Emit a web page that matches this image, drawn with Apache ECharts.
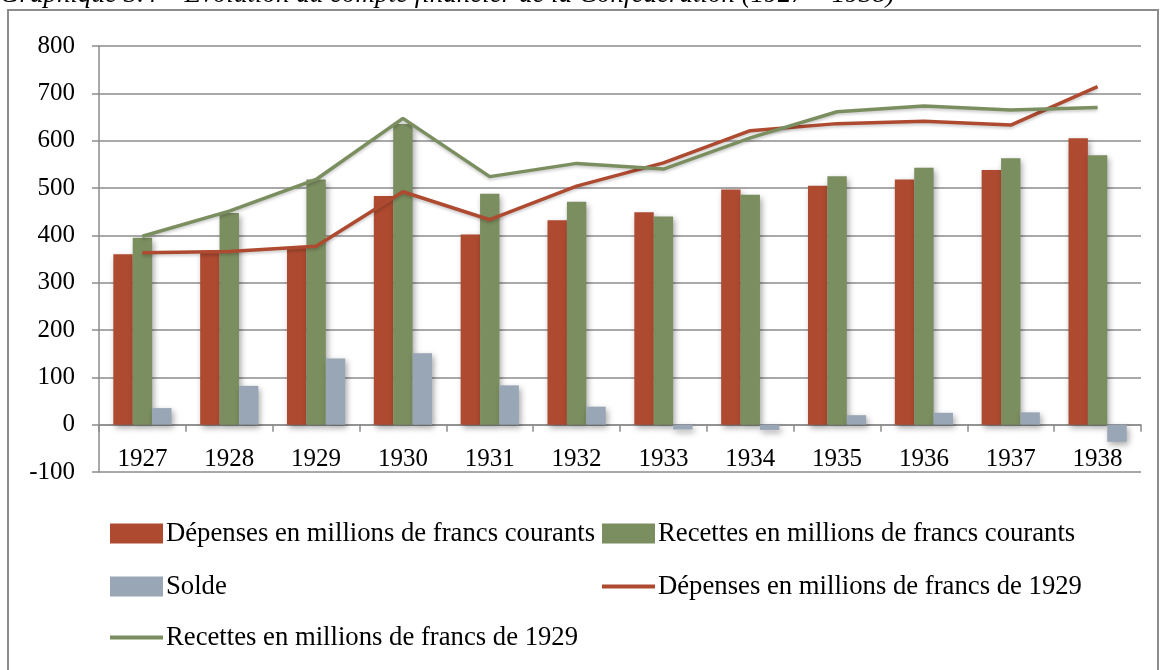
<!DOCTYPE html>
<html>
<head>
<meta charset="utf-8">
<title>Compte financier</title>
<script src="https://cdn.jsdelivr.net/npm/echarts@6/dist/echarts.min.js"></script>
<style>
  html, body { margin: 0; padding: 0; background: #fff; }
  #chart { width: 1163px; height: 670px; }
</style>
</head>
<body>
<div id="chart"></div>
<script>
// années
const years = ['1927', '1928', '1929', '1930', '1931', '1932', '1933', '1934', '1935', '1936', '1937', '1938'];
// barres (francs courants)
const depensesCourants = [360, 365, 375, 483, 402, 432, 449, 497, 505, 518, 538, 605];
const recettesCourants = [395, 447, 518, 635, 488, 471, 440, 486, 525, 543, 563, 569];
const solde = [35, 82, 140, 151, 83, 38, -10, -11, 20, 25, 26, -36];
// lignes (francs de 1929)
const depenses1929 = [363, 366, 377, 492, 433, 504, 553, 621, 636, 641, 633, 714];
const recettes1929 = [398, 451, 518, 647, 524, 552, 540, 606, 661, 673, 665, 670];
const yTicks = { min: -100, max: 800, interval: 100 };

const names = [
    'Dépenses en millions de francs courants',
    'Recettes en millions de francs courants',
    'Solde',
    'Dépenses en millions de francs de 1929',
    'Recettes en millions de francs de 1929'
];
const RED = '#ad4a30';
const GREEN = '#7b8e5f';
const BLUE = '#98a6b6';
const FONT = '"Liberation Serif", "DejaVu Serif", serif';

const barShadow = {
    shadowBlur: 6,
    shadowColor: 'rgba(0,0,0,0.35)',
    shadowOffsetX: 2,
    shadowOffsetY: 3
};

// une légende par entrée pour garder les deux colonnes
function legendAt(name, left, top, isLine) {
    return {
        data: [{ name: name, icon: 'rect' }],
        left: left,
        top: top,
        itemWidth: 53,
        itemHeight: isLine ? 4 : 20,
        itemGap: 0,
        padding: 0,
        selectedMode: false,
        textStyle: { fontFamily: FONT, fontSize: 26.7, color: '#000', padding: [0, 0, 0, -2] }
    };
}

const chart = echarts.init(document.getElementById('chart'));
chart.setOption({
    animation: false,
    backgroundColor: '#fff',
    textStyle: { fontFamily: FONT },
    graphic: [
        {
            type: 'rect',
            shape: { x: 8, y: 10, width: 1150, height: 680 },
            style: { fill: 'none', stroke: '#8c8c8c', lineWidth: 2 },
            silent: true
        },
        {
            type: 'text',
            left: 0,
            top: -19,
            style: {
                text: 'Graphique 3.4 – Évolution du compte financier de la Confédération (1927 – 1938)',
                font: 'italic 27px ' + FONT,
                fill: '#000'
            }
        }
    ],
    legend: [
        legendAt(names[0], 110, 520, false),
        legendAt(names[1], 602, 520, false),
        legendAt(names[2], 110, 573, false),
        legendAt(names[3], 602, 573, true),
        legendAt(names[4], 110, 624, true)
    ],
    grid: { left: 99, right: 22, top: 46, bottom: 198 },
    xAxis: {
        type: 'category',
        data: years,
        boundaryGap: true,
        axisLine: { onZero: true, lineStyle: { color: '#8c8c8c', width: 1.5 } },
        axisTick: { show: true, length: 7, inside: false, lineStyle: { color: '#8c8c8c', width: 1.5 } },
        axisLabel: { color: '#000', fontSize: 25, fontFamily: FONT, margin: -25 }
    },
    yAxis: {
        type: 'value',
        min: yTicks.min,
        max: yTicks.max,
        interval: yTicks.interval,
        axisLine: { show: true, lineStyle: { color: '#8c8c8c', width: 1.5 } },
        axisTick: { show: true, length: 7, lineStyle: { color: '#8c8c8c', width: 1.5 } },
        axisLabel: { color: '#000', fontSize: 25, fontFamily: FONT, margin: 24 },
        splitLine: { show: true, lineStyle: { color: '#8c8c8c', width: 1.5 } }
    },
    series: [
        {
            name: names[0],
            type: 'bar',
            data: depensesCourants,
            barGap: '0%',
            barCategoryGap: '33%',
            itemStyle: Object.assign({ color: RED }, barShadow)
        },
        {
            name: names[1],
            type: 'bar',
            data: recettesCourants,
            itemStyle: Object.assign({ color: GREEN }, barShadow)
        },
        {
            name: names[2],
            type: 'bar',
            data: solde,
            itemStyle: Object.assign({ color: BLUE }, barShadow)
        },
        {
            name: names[3],
            type: 'line',
            data: depenses1929,
            symbol: 'none',
            itemStyle: { color: RED },
            lineStyle: { color: RED, width: 3.5, shadowBlur: 3, shadowColor: 'rgba(0,0,0,0.2)', shadowOffsetY: 2 },
            z: 5
        },
        {
            name: names[4],
            type: 'line',
            data: recettes1929,
            symbol: 'none',
            itemStyle: { color: GREEN },
            lineStyle: { color: GREEN, width: 3.5, shadowBlur: 3, shadowColor: 'rgba(0,0,0,0.2)', shadowOffsetY: 2 },
            z: 5
        }
    ]
});
</script>
</body>
</html>
